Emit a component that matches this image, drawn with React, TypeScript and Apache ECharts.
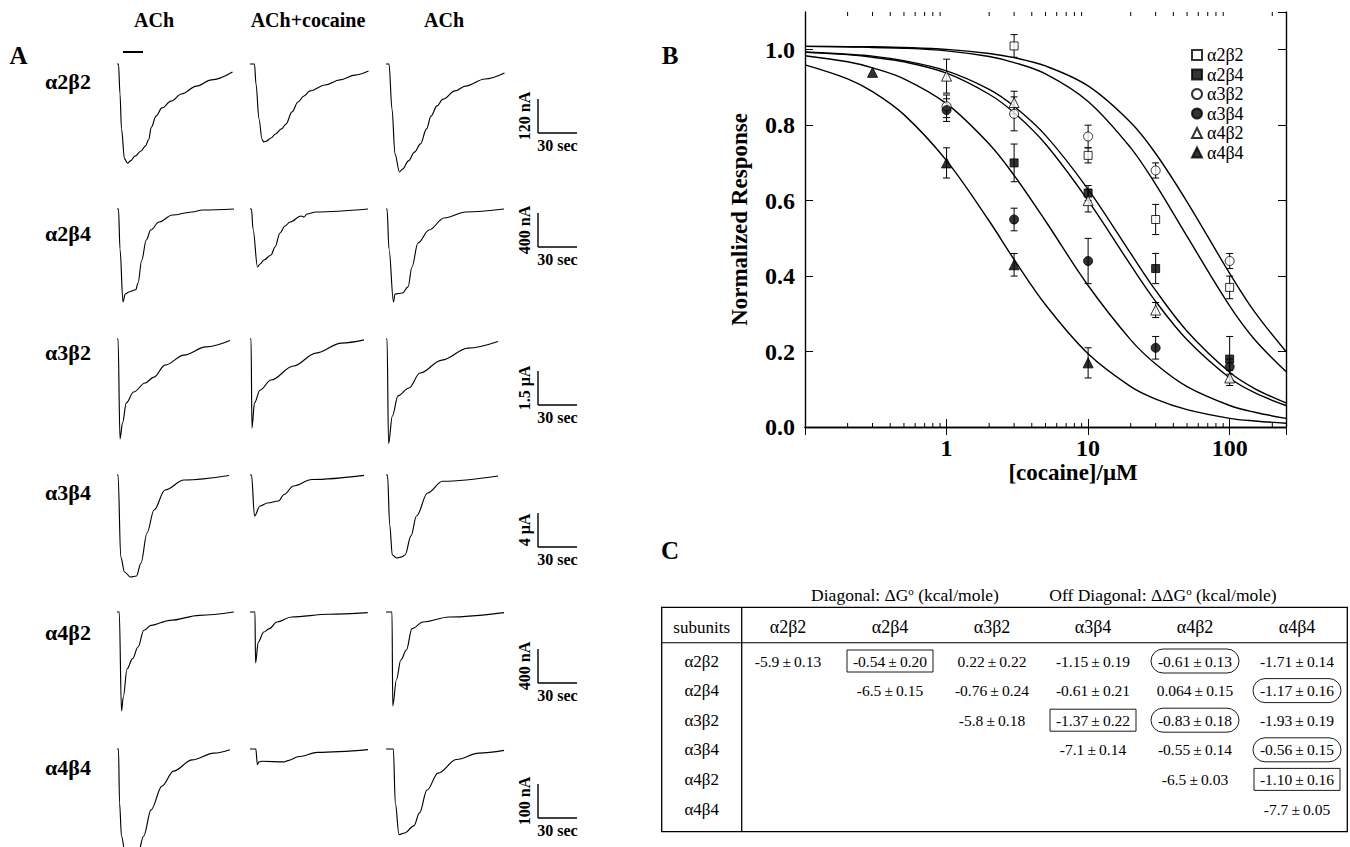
import React, { useEffect, useRef } from 'react';
import * as echarts from 'echarts';

const FONT = "'Liberation Serif', 'Times New Roman', Times, serif";

// ---------- Panel A data ----------
const RECEPTORS = ['α2β2', 'α2β4', 'α3β2', 'α3β4', 'α4β2', 'α4β4'];
const CONDITIONS = ['ACh', 'ACh+cocaine', 'ACh'];
const SCALE_BAR_VALUES = [120, 400, 1.5, 4, 400, 100];
const SCALE_BAR_UNITS = ['nA', 'nA', 'μA', 'μA', 'nA', 'nA'];
const TIME_BAR_SEC = 30;

// traces: [time (s), current]
const A2B2_ACH_1 = [[0, 0], [1, 0], [2, -106], [3, -229], [5, -335], [7, -350], [9, -342], [12, -325], [16, -307], [19, -289], [21, -268], [23, -222], [26, -184], [30, -155], [36, -131], [43, -106], [53, -78], [63, -56], [77, -28]];
const A2B2_COC = [[0, 0], [3, 0], [4, -71], [6, -194], [8, -265], [9, -275], [11, -272], [14, -261], [17, -247], [21, -229], [24, -212], [28, -169], [32, -134], [36, -113], [40, -95], [50, -74], [60, -56], [70, -39], [79, -25]];
const A2B2_ACH_2 = [[0, 0], [2, 0], [4, -159], [6, -318], [9, -381], [11, -371], [15, -342], [19, -311], [23, -282], [27, -229], [30, -184], [34, -148], [38, -124], [46, -95], [53, -78], [66, -53], [79, -32]];

const A2B4_ACH_1 = [[0, 0], [1, 0], [2, -470], [4, -1094], [5.5, -1000], [8, -976], [12.5, -950], [14, -870], [16.5, -600], [19.5, -365], [22.5, -247], [28, -153], [37, -71], [50, -35], [57, -12], [78, 0]];
const A2B4_COC = [[0, 0], [1, 0], [2, -235], [5, -682], [6.7, -647], [9.3, -600], [14, -541], [16.7, -447], [20, -282], [23.3, -200], [26.7, -153], [34, -82], [36, -94], [38, -59], [44, -35], [78.7, 0]];
const A2B4_ACH_2 = [[0, 0], [0.7, 0], [2, -470], [5, -1094], [6, -1000], [11, -988], [14.7, -917], [17.3, -682], [21.3, -400], [28.7, -247], [38.7, -106], [53.3, -35], [78.7, 0]];

const A3B2_ACH_1 = [[0, 0], [0.7, 0], [2, -4.41], [3.7, -3.7], [6.2, -2.82], [11.1, -2.34], [18.7, -1.94], [24.7, -1.68], [32, -1.15], [44.7, -0.71], [59.3, -0.35], [75.3, -0.07]];
const A3B2_COC = [[0, 0], [0.7, 0], [1.3, -3.93], [3, -2.82], [6.7, -2.25], [14, -1.81], [29, -1.19], [44, -0.62], [61, -0.18], [76, -0.04]];
const A3B2_ACH_2 = [[0, 0], [0.7, 0], [1.7, -4.62], [4.2, -3.4], [8, -2.51], [15.3, -2.16], [22.7, -1.5], [37.3, -0.93], [54.7, -0.4], [74.7, -0.11]];

const A3B4_ACH_1 = [[0, 0], [0.7, 0], [2.5, -9.64], [5, -11.41], [9, -12.0], [13, -11.88], [16, -10.35], [20, -6.82], [24.7, -4.12], [32, -1.76], [44.7, -0.59], [74.7, -0.06]];
const A3B4_COC = [[0, 0], [1, 0], [3, -4.82], [6.7, -3.65], [11.7, -3.29], [19, -3.06], [22.7, -2.29], [29, -1.29], [41.3, -0.53], [76, -0.04]];
const A3B4_ACH_2 = [[0, 0], [1, 0], [2.5, -5.88], [4.2, -9.41], [7, -9.76], [10.4, -9.64], [12.7, -9.41], [16.7, -7.17], [20.3, -4.82], [27.7, -2.12], [37.7, -0.74], [74.7, -0.12]];

const A4B2_ACH_1 = [[0, 0], [1.5, 0], [3, -1165], [4.2, -1000], [6.7, -670], [10.4, -549], [14, -412], [17.9, -215], [22.7, -157], [35.3, -98], [55, -39], [77.9, 0]];
const A4B2_COC = [[0, 0], [3.3, 0], [3.7, -600], [5.5, -353], [9.2, -235], [12.9, -196], [17.9, -118], [27.7, -59], [52.5, -27], [78.5, -7]];
const A4B2_ACH_2 = [[0, 0], [4, 0], [4.5, -1106], [6.9, -800], [9.9, -565], [13.6, -447], [17.3, -196], [24.7, -118], [42, -59], [78.7, -7]];

const A4B4_ACH_1 = [[0, 0], [1, 0], [1.7, -159], [3, -256], [5, -294], [9, -309], [14, -306], [17.8, -256], [22.7, -179], [30, -109], [37.7, -65], [50, -32], [64.7, -12], [75.3, -2]];
const A4B4_COC = [[0, 0], [3.9, 0], [4.9, -46], [6, -38], [8, -36], [22.7, -38], [25.3, -34], [32.7, -22], [45, -10], [78.7, -2]];
const A4B4_ACH_2 = [[0, 0], [4.9, 0], [6.2, -159], [8.7, -252], [12.4, -247], [18.6, -226], [22.3, -188], [27.3, -121], [34.7, -71], [47, -31], [62, -12], [78.7, -4]];

const TRACES = [
  [A2B2_ACH_1, A2B2_COC, A2B2_ACH_2],
  [A2B4_ACH_1, A2B4_COC, A2B4_ACH_2],
  [A3B2_ACH_1, A3B2_COC, A3B2_ACH_2],
  [A3B4_ACH_1, A3B4_COC, A3B4_ACH_2],
  [A4B2_ACH_1, A4B2_COC, A4B2_ACH_2],
  [A4B4_ACH_1, A4B4_COC, A4B4_ACH_2],
];

// ---------- Panel B data ----------
// [concentration µM, normalized response, error]
const PTS_A2B2 = [[3, 1.01, 0.03], [10, 0.72, 0.02], [30, 0.55, 0.04], [100, 0.37, 0.03]];
const PTS_A2B4 = [[3, 0.7, 0.05], [10, 0.62, 0.02], [30, 0.42, 0.04], [100, 0.18, 0.06]];
const PTS_A3B2 = [[1, 0.85, 0.03], [3, 0.83, 0.045], [10, 0.77, 0.03], [30, 0.68, 0.02], [100, 0.44, 0.02]];
const PTS_A3B4 = [[1, 0.84, 0.03], [3, 0.55, 0.03], [10, 0.44, 0.06], [30, 0.21, 0.03], [100, 0.16, 0.02]];
const PTS_A4B2 = [[1, 0.93, 0.045], [3, 0.86, 0.03], [10, 0.6, 0.03], [30, 0.31, 0.02], [100, 0.13, 0.02]];
const PTS_A4B4 = [[0.3, 0.94, 0], [1, 0.7, 0.04], [3, 0.43, 0.03], [10, 0.17, 0.04]];

const FIT_X = [0.1, 0.2, 0.3, 0.5, 1, 2, 3, 5, 10, 20, 30, 50, 100, 150, 250];
const FIT_A2B2 = [1.009, 1.008, 1.006, 1.004, 0.997, 0.982, 0.966, 0.936, 0.863, 0.74, 0.643, 0.505, 0.321, 0.232, 0.147];
const FIT_A2B4 = [0.994, 0.988, 0.983, 0.971, 0.944, 0.895, 0.85, 0.773, 0.63, 0.46, 0.362, 0.254, 0.145, 0.102, 0.064];
const FIT_A3B2 = [1.009, 1.008, 1.008, 1.006, 1.001, 0.99, 0.979, 0.957, 0.904, 0.807, 0.725, 0.597, 0.407, 0.305, 0.2];
const FIT_A3B4 = [0.984, 0.968, 0.952, 0.923, 0.857, 0.75, 0.667, 0.546, 0.375, 0.231, 0.167, 0.107, 0.057, 0.039, 0.023];
const FIT_A4B2 = [0.993, 0.987, 0.98, 0.968, 0.938, 0.882, 0.833, 0.75, 0.6, 0.429, 0.333, 0.231, 0.13, 0.091, 0.057];
const FIT_A4B4 = [0.96, 0.923, 0.889, 0.828, 0.706, 0.546, 0.444, 0.324, 0.194, 0.107, 0.074, 0.046, 0.023, 0.016, 0.01];

const CONC_MINOR_TICKS = [0.2, 0.3, 0.4, 0.5, 0.6, 0.7, 0.8, 0.9, 2, 3, 4, 5, 6, 7, 8, 9, 20, 30, 40, 50, 60, 70, 80, 90, 200];
const CONC_LABELS = [1, 10, 100];

// ---------- Panel C data ----------
const TABLE_TITLE_LEFT = 'Diagonal: ΔG{sup|o} (kcal/mole)';
const TABLE_TITLE_RIGHT = 'Off Diagonal: ΔΔG{sup|o} (kcal/mole)';
const TABLE_CORNER = 'subunits';
const ROW_1 = ['-5.9 ± 0.13', '-0.54 ± 0.20', '0.22 ± 0.22', '-1.15 ± 0.19', '-0.61 ± 0.13', '-1.71 ± 0.14'];
const ROW_2 = ['', '-6.5 ± 0.15', '-0.76 ± 0.24', '-0.61 ± 0.21', '0.064 ± 0.15', '-1.17 ± 0.16'];
const ROW_3 = ['', '', '-5.8 ± 0.18', '-1.37 ± 0.22', '-0.83 ± 0.18', '-1.93 ± 0.19'];
const ROW_4 = ['', '', '', '-7.1 ± 0.14', '-0.55 ± 0.14', '-0.56 ± 0.15'];
const ROW_5 = ['', '', '', '', '-6.5 ± 0.03', '-1.10 ± 0.16'];
const ROW_6 = ['', '', '', '', '', '-7.7 ± 0.05'];
const TABLE_ROWS = [ROW_1, ROW_2, ROW_3, ROW_4, ROW_5, ROW_6];
const BOXED_CELLS = [[0, 1], [2, 3], [4, 5]];
const CIRCLED_CELLS = [[0, 4], [1, 5], [2, 4], [3, 5]];

// ---------- layout (positions / sizes) ----------
const TRACE_COL_LEFT = [117, 250, 386];
const ROW_BASELINE = [64, 209, 339, 475, 612, 749];
const ROW_LABEL_Y = [81, 233, 352, 492, 632, 767];
const SCALEBAR_BOTTOM = [133, 247, 405, 547, 683, 818];
const TRACE_GRID_W = 120;
const TRACE_GRID_H = 90;
const TRACE_T_MAX = 80;
const SCALE_BAR_PX = 34;
const TIME_BAR_PX = 39;

const B_GRID = { left: 805, top: 12, width: 481, height: 415 };
const Y_MIN = 0;
const Y_MAX = 1.1;

const T_LEFT = 661.7, T_TOP = 607.3, T_RIGHT = 1347.3, T_BOTTOM = 831.7;
const T_DIVIDER = 741.7, T_HEADLINE = 642.7, T_HEAD_Y = 627;
const T_COL_X = [788, 890, 992, 1093, 1195, 1297];
const T_ROW_Y0 = 661, T_ROW_DY = 29.6;

const BLACK = '#000';

function buildOption() {
  const grids: any[] = [];
  const xAxes: any[] = [];
  const yAxes: any[] = [];
  const series: any[] = [];
  const graphic: any[] = [];

  const txt = (x: number, y: number, text: string, size: number, bold: boolean, extra: any = {}) => ({
    type: 'text',
    x,
    y,
    silent: true,
    ...extra,
    style: {
      text,
      fill: BLACK,
      fontFamily: FONT,
      fontSize: size,
      fontWeight: bold ? 'bold' : 'normal',
      align: 'center',
      verticalAlign: 'middle',
      textAlign: 'center',
      textVerticalAlign: 'middle',
      ...(extra.style || {}),
    },
  });
  const ln = (x1: number, y1: number, x2: number, y2: number, w = 1.2) => ({
    type: 'line',
    silent: true,
    shape: { x1, y1, x2, y2 },
    style: { stroke: BLACK, lineWidth: w },
  });

  // ----- Panel A -----
  TRACES.forEach((row, r) => {
    row.forEach((trace, c) => {
      const idx = grids.length;
      grids.push({ left: TRACE_COL_LEFT[c], top: ROW_BASELINE[r], width: TRACE_GRID_W, height: TRACE_GRID_H });
      xAxes.push({ gridIndex: idx, type: 'value', min: 0, max: TRACE_T_MAX, show: false });
      yAxes.push({
        gridIndex: idx,
        type: 'value',
        min: -(TRACE_GRID_H / SCALE_BAR_PX) * SCALE_BAR_VALUES[r],
        max: 0,
        show: false,
      });
      series.push({
        type: 'line',
        name: `${RECEPTORS[r]} ${CONDITIONS[c]} ${c}`,
        xAxisIndex: idx,
        yAxisIndex: idx,
        data: trace,
        showSymbol: false,
        symbol: 'none',
        smooth: 0.35,
        smoothMonotone: 'x',
        clip: false,
        silent: true,
        lineStyle: { color: BLACK, width: 1.15 },
      });
    });
  });

  graphic.push(txt(18.5, 55, 'A', 25, true));
  const headerX = [154, 308, 444];
  CONDITIONS.forEach((c, i) => graphic.push(txt(headerX[i], 20, c, 20, true)));
  graphic.push(ln(123, 52, 143, 52, 2));
  RECEPTORS.forEach((rc, r) => {
    graphic.push(txt(68, ROW_LABEL_Y[r], rc, 22, true));
    const b = SCALEBAR_BOTTOM[r];
    const bx = 538;
    graphic.push(ln(bx, b - SCALE_BAR_PX, bx, b, 1.4));
    graphic.push(ln(bx, b, bx + TIME_BAR_PX, b, 1.4));
    graphic.push(txt(524, b - SCALE_BAR_PX / 2, `${SCALE_BAR_VALUES[r]} ${SCALE_BAR_UNITS[r]}`, 16, true, { rotation: Math.PI / 2 }));
    graphic.push(txt(bx + TIME_BAR_PX / 2, b + 12, `${TIME_BAR_SEC} sec`, 16, true));
  });

  // ----- Panel B -----
  const bIdx = grids.length;
  grids.push({ ...B_GRID });
  const axisLineStyle = { color: BLACK, width: 1.4 };
  const labelStyle = { fontFamily: FONT, fontSize: 24, fontWeight: 'bold', color: BLACK };
  const titleStyle = { fontFamily: FONT, fontSize: 23, fontWeight: 'bold', color: BLACK };
  xAxes.push({
    gridIndex: bIdx,
    type: 'log',
    logBase: 10,
    min: 0.1,
    max: 250,
    name: '[cocaine]/μM',
    nameLocation: 'middle',
    nameGap: 33,
    nameTextStyle: { ...titleStyle, padding: [0, 0, 0, 55] },
    axisLine: { show: true, lineStyle: axisLineStyle },
    axisTick: { show: true, inside: true, length: 8, lineStyle: { color: BLACK, width: 1 } },
    axisLabel: {
      ...labelStyle,
      margin: 9,
      showMaxLabel: false,
      showMinLabel: false,
      formatter: (v: number) => (CONC_LABELS.some((l) => Math.abs(l - v) < 1e-6) ? String(v) : ''),
    },
    splitLine: { show: false },
  });
  xAxes.push({
    gridIndex: bIdx,
    type: 'log',
    logBase: 10,
    min: 0.1,
    max: 250,
    position: 'top',
    axisLine: { show: true, lineStyle: axisLineStyle },
    axisTick: { show: true, inside: true, length: 8, lineStyle: { color: BLACK, width: 1 } },
    axisLabel: { show: false },
    splitLine: { show: false },
  });
  yAxes.push({
    gridIndex: bIdx,
    type: 'value',
    min: Y_MIN,
    max: Y_MAX,
    interval: 0.2,
    name: 'Normalized Response',
    nameLocation: 'middle',
    nameGap: 54,
    nameRotate: 90,
    nameTextStyle: { ...titleStyle },
    axisLine: { show: true, lineStyle: axisLineStyle },
    axisTick: { show: true, inside: true, length: 8, lineStyle: { color: BLACK, width: 1 } },
    axisLabel: { ...labelStyle, margin: 10, showMaxLabel: false, formatter: (v: number) => v.toFixed(1) },
    splitLine: { show: false },
  });
  yAxes.push({
    gridIndex: bIdx,
    type: 'value',
    min: Y_MIN,
    max: Y_MAX,
    interval: 0.2,
    position: 'right',
    axisLine: { show: true, lineStyle: axisLineStyle },
    axisTick: { show: true, inside: true, length: 8, lineStyle: { color: BLACK, width: 1 } },
    axisLabel: { show: false },
    splitLine: { show: false },
  });

  const bx = xAxes.length - 2;
  const by = yAxes.length - 2;

  // minor ticks on log axis (bottom and top)
  series.push({
    type: 'custom',
    name: 'minor ticks',
    xAxisIndex: bx,
    yAxisIndex: by,
    silent: true,
    clip: false,
    data: CONC_MINOR_TICKS.map((v) => [v, Y_MIN]),
    encode: { x: 0, y: 1 },
    renderItem: (_p: any, api: any) => {
      const v = api.value(0);
      const b = api.coord([v, Y_MIN]);
      const t = api.coord([v, Y_MAX]);
      const st = { stroke: BLACK, lineWidth: 1 };
      return {
        type: 'group',
        children: [
          { type: 'line', shape: { x1: b[0], y1: b[1], x2: b[0], y2: b[1] - 4 }, style: st },
          { type: 'line', shape: { x1: t[0], y1: t[1], x2: t[0], y2: t[1] + 4 }, style: st },
        ],
      };
    },
  });

  const fits = [FIT_A2B2, FIT_A2B4, FIT_A3B2, FIT_A3B4, FIT_A4B2, FIT_A4B4];
  fits.forEach((f, i) => {
    series.push({
      type: 'line',
      name: `fit ${RECEPTORS[i]}`,
      xAxisIndex: bx,
      yAxisIndex: by,
      data: FIT_X.map((x, k) => [x, f[k]]),
      showSymbol: false,
      symbol: 'none',
      smooth: 0.35,
      silent: true,
      z: 2,
      lineStyle: { color: BLACK, width: 1.4 },
    });
  });

  const pts = [PTS_A2B2, PTS_A2B4, PTS_A3B2, PTS_A3B4, PTS_A4B2, PTS_A4B4];
  const symbols = ['rect', 'rect', 'circle', 'circle', 'triangle', 'triangle'];
  const sizes = [8, 8, 9, 9, 10, 10];
  const filled = [false, true, false, true, false, true];

  pts.forEach((p, i) => {
    series.push({
      type: 'custom',
      name: `error ${RECEPTORS[i]}`,
      xAxisIndex: bx,
      yAxisIndex: by,
      silent: true,
      z: 3,
      data: p,
      encode: { x: 0, y: 1 },
      renderItem: (_p: any, api: any) => {
        const x = api.value(0);
        const y = api.value(1);
        const e = api.value(2);
        if (!e) return { type: 'group', children: [] };
        const top = api.coord([x, y + e]);
        const bot = api.coord([x, y - e]);
        const st = { stroke: BLACK, lineWidth: 1 };
        const cap = 3.5;
        return {
          type: 'group',
          children: [
            { type: 'line', shape: { x1: top[0], y1: top[1], x2: bot[0], y2: bot[1] }, style: st },
            { type: 'line', shape: { x1: top[0] - cap, y1: top[1], x2: top[0] + cap, y2: top[1] }, style: st },
            { type: 'line', shape: { x1: bot[0] - cap, y1: bot[1], x2: bot[0] + cap, y2: bot[1] }, style: st },
          ],
        };
      },
    });
  });
  pts.forEach((p, i) => {
    series.push({
      type: 'scatter',
      name: RECEPTORS[i],
      xAxisIndex: bx,
      yAxisIndex: by,
      z: 4,
      data: p.map((d) => [d[0], d[1]]),
      symbol: symbols[i],
      symbolSize: sizes[i],
      itemStyle: { color: filled[i] ? BLACK : '#fff', borderColor: BLACK, borderWidth: 1 },
    });
  });

  graphic.push(txt(670, 55, 'B', 25, true));

  // ----- Panel C -----
  graphic.push(txt(670, 550, 'C', 25, true));
  const richSup = { sup: { fontSize: 11, fontFamily: FONT, verticalAlign: 'top', lineHeight: 20, fill: BLACK, color: BLACK } };
  graphic.push(txt(905, 595, TABLE_TITLE_LEFT, 17.5, false, { style: { rich: richSup, lineHeight: 20 } }));
  graphic.push(txt(1163, 595, TABLE_TITLE_RIGHT, 17.5, false, { style: { rich: richSup, lineHeight: 20 } }));
  graphic.push({
    type: 'rect',
    silent: true,
    shape: { x: T_LEFT, y: T_TOP, width: T_RIGHT - T_LEFT, height: T_BOTTOM - T_TOP },
    style: { fill: 'none', stroke: BLACK, lineWidth: 1.3 },
  });
  graphic.push(ln(T_DIVIDER, T_TOP, T_DIVIDER, T_BOTTOM, 1.3));
  graphic.push(ln(T_LEFT, T_HEADLINE, T_RIGHT, T_HEADLINE, 1.1));
  graphic.push(txt((T_LEFT + T_DIVIDER) / 2, T_HEAD_Y, TABLE_CORNER, 17, false));
  RECEPTORS.forEach((rc, i) => {
    graphic.push(txt(T_COL_X[i], T_HEAD_Y, rc, 18, false));
    graphic.push(txt((T_LEFT + T_DIVIDER) / 2, T_ROW_Y0 + i * T_ROW_DY, rc, 17, false));
  });
  TABLE_ROWS.forEach((row, r) => {
    row.forEach((cell, c) => {
      if (!cell) return;
      graphic.push(txt(T_COL_X[c], T_ROW_Y0 + r * T_ROW_DY, cell.replace(/ ± /g, '\u2009±\u2009'), 15.5, false));
    });
  });
  BOXED_CELLS.forEach(([r, c]) => {
    const cx = T_COL_X[c], cy = T_ROW_Y0 + r * T_ROW_DY;
    graphic.push({
      type: 'rect',
      silent: true,
      shape: { x: cx - 43, y: cy - 11, width: 86, height: 22 },
      style: { fill: 'none', stroke: BLACK, lineWidth: 0.9 },
    });
  });
  CIRCLED_CELLS.forEach(([r, c]) => {
    const cx = T_COL_X[c], cy = T_ROW_Y0 + r * T_ROW_DY;
    graphic.push({
      type: 'rect',
      silent: true,
      shape: { x: cx - 44, y: cy - 12, width: 88, height: 24, r: 12 },
      style: { fill: 'none', stroke: BLACK, lineWidth: 0.9 },
    });
  });

  return {
    animation: false,
    backgroundColor: '#fff',
    textStyle: { fontFamily: FONT, color: BLACK },
    grid: grids,
    xAxis: xAxes,
    yAxis: yAxes,
    legend: {
      data: RECEPTORS,
      orient: 'vertical',
      left: 1186,
      top: 41,
      itemWidth: 10,
      itemHeight: 10,
      itemGap: 1.5,
      selectedMode: false,
      textStyle: { fontFamily: FONT, fontSize: 18, color: BLACK, lineHeight: 15 },
    },
    series,
    graphic: { elements: graphic },
  };
}

export default function App() {
  const ref = useRef<HTMLDivElement>(null);
  useEffect(() => {
    if (!ref.current) return;
    const chart = echarts.init(ref.current, undefined, { renderer: 'svg' });
    chart.setOption(buildOption() as any);
    return () => chart.dispose();
  }, []);
  return (
    <div
      ref={ref}
      style={{ position: 'absolute', left: 0, top: 0, width: 1350, height: 847, background: '#fff' }}
    />
  );
}
